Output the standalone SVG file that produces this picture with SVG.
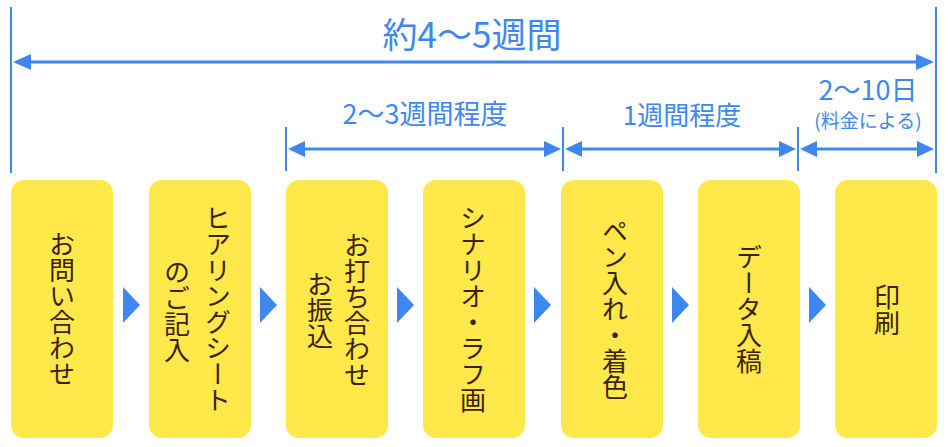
<svg xmlns="http://www.w3.org/2000/svg" width="948" height="447" viewBox="0 0 948 447">
<style>
.box{fill:#FFE84A}
.tri{fill:#3D87EE}
.lbl{font-family:"Noto Sans CJK JP","Noto Sans",sans-serif;font-size:26px;fill:#3B2208;writing-mode:vertical-rl;text-anchor:middle}
.dim{font-family:"Noto Sans CJK JP","Noto Sans",sans-serif;fill:#3D87EE;text-anchor:middle}
.ln{stroke:#3D87EE;stroke-width:3;fill:none}
.tk{stroke:#3D87EE;stroke-width:2;fill:none}
</style>
<g id="connectors">
<line class="tk" x1="11" y1="7" x2="11" y2="173"/>
<line class="tk" x1="936" y1="7" x2="936" y2="173"/>
<path class="ln" d="M30,62 H917"/>
<path d="M13,62 L31,54 L31,70 Z" fill="#3D87EE"/>
<path d="M934,62 L916,54 L916,70 Z" fill="#3D87EE"/>
<line class="tk" x1="286" y1="127" x2="286" y2="171"/>
<line class="tk" x1="563" y1="127" x2="563" y2="171"/>
<line class="tk" x1="798" y1="127" x2="798" y2="171"/>
<path class="ln" d="M304,149 H545"/>
<path d="M288,149 L305,141 L305,157 Z" fill="#3D87EE"/>
<path d="M561,149 L544,141 L544,157 Z" fill="#3D87EE"/>
<path class="ln" d="M581,149 H780"/>
<path d="M565,149 L582,141 L582,157 Z" fill="#3D87EE"/>
<path d="M796,149 L779,141 L779,157 Z" fill="#3D87EE"/>
<path class="ln" d="M816,149 H918"/>
<path d="M800,149 L817,141 L817,157 Z" fill="#3D87EE"/>
<path d="M934,149 L917,141 L917,157 Z" fill="#3D87EE"/>
<path class="tri" d="M123,287 L140,305 L123,323 Z"/>
<path class="tri" d="M260,287 L277,305 L260,323 Z"/>
<path class="tri" d="M397,287 L414,305 L397,323 Z"/>
<path class="tri" d="M534,287 L551,305 L534,323 Z"/>
<path class="tri" d="M672,287 L689,305 L672,323 Z"/>
<path class="tri" d="M809,287 L826,305 L809,323 Z"/>
</g>
<g id="labels">
<text class="dim" x="472" y="48" font-size="35">約4〜5週間</text>
<text class="dim" x="425" y="124" font-size="27">2〜3週間程度</text>
<text class="dim" x="682" y="125" font-size="26">1週間程度</text>
<text class="dim" x="868" y="100" font-size="27">2〜10日</text>
<text class="dim" x="868" y="128" font-size="19">(料金による)</text>
</g>
<g id="n1"><rect class="box" x="11" y="180" width="102" height="258" rx="13"/><text class="lbl" x="62" y="309">お問い合わせ</text></g>
<g id="n2"><rect class="box" x="149" y="180" width="102" height="258" rx="13"/><text class="lbl" x="218" y="309">ヒアリングシート</text><text class="lbl" x="177" y="311">のご記入</text></g>
<g id="n3"><rect class="box" x="286" y="180" width="102" height="258" rx="13"/><text class="lbl" x="357" y="310">お打ち合わせ</text><text class="lbl" x="320" y="310">お振込</text></g>
<g id="n4"><rect class="box" x="423" y="180" width="102" height="258" rx="13"/><text class="lbl" x="473" y="309">シナリオ・ラフ画</text></g>
<g id="n5"><rect class="box" x="561" y="180" width="102" height="258" rx="13"/><text class="lbl" x="615" y="309">ペン入れ・着色</text></g>
<g id="n6"><rect class="box" x="698" y="180" width="102" height="258" rx="13"/><text class="lbl" x="749" y="309">データ入稿</text></g>
<g id="n7"><rect class="box" x="835" y="180" width="102" height="258" rx="13"/><text class="lbl" x="887" y="310">印刷</text></g>
</svg>
